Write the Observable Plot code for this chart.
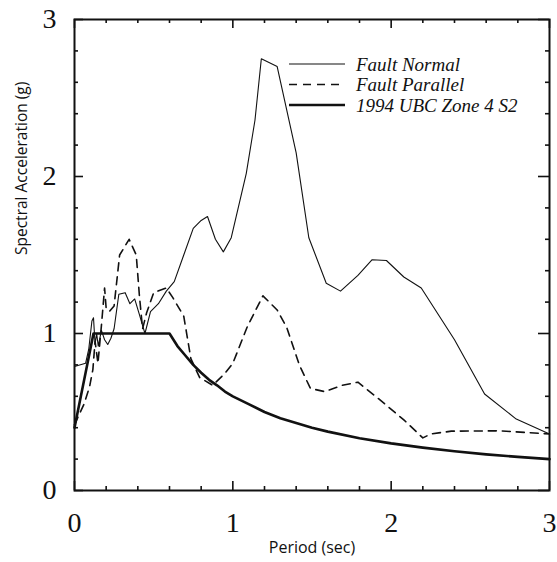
<!DOCTYPE html>
<html><head><meta charset="utf-8">
<script src="https://cdn.jsdelivr.net/npm/d3@7"></script>
<script src="https://cdn.jsdelivr.net/npm/@observablehq/plot@0.6"></script>
<style>body{margin:0;background:#fff}</style>
</head><body><div id="chart"></div>
<script>
// Fault Normal (thin solid)
const fnPeriod = [0, 0.07, 0.09, 0.11, 0.12, 0.13, 0.14, 0.15, 0.17, 0.19, 0.21, 0.23, 0.25, 0.28, 0.32, 0.35, 0.38, 0.41, 0.445, 0.48, 0.53, 0.58, 0.63, 0.69, 0.75, 0.80, 0.84, 0.89, 0.94, 0.99, 1.085, 1.14, 1.18, 1.28, 1.40, 1.48, 1.59, 1.68, 1.79, 1.88, 1.97, 2.08, 2.19, 2.40, 2.59, 2.79, 3.0];
const fnSa     = [0.79, 0.81, 0.90, 1.08, 1.10, 0.93, 1.00, 0.92, 1.02, 0.96, 0.93, 0.97, 1.03, 1.25, 1.26, 1.19, 1.22, 1.12, 1.00, 1.14, 1.19, 1.27, 1.33, 1.50, 1.67, 1.72, 1.745, 1.60, 1.52, 1.61, 2.02, 2.36, 2.75, 2.70, 2.15, 1.61, 1.32, 1.27, 1.37, 1.47, 1.465, 1.36, 1.29, 0.96, 0.615, 0.455, 0.36];
// Fault Parallel (dashed)
const fpPeriod = [0, 0.06, 0.095, 0.116, 0.13, 0.148, 0.17, 0.19, 0.20, 0.22, 0.25, 0.285, 0.345, 0.39, 0.41, 0.43, 0.455, 0.50, 0.58, 0.62, 0.69, 0.735, 0.79, 0.873, 0.947, 1.0, 1.09, 1.19, 1.28, 1.34, 1.42, 1.49, 1.58, 1.69, 1.79, 1.92, 2.08, 2.20, 2.25, 2.38, 2.69, 3.0];
const fpSa     = [0.42, 0.55, 0.66, 0.77, 0.95, 0.81, 1.05, 1.29, 1.16, 1.14, 1.175, 1.50, 1.60, 1.50, 1.24, 1.03, 1.13, 1.26, 1.29, 1.23, 1.11, 0.84, 0.72, 0.67, 0.743, 0.81, 1.04, 1.24, 1.15, 1.04, 0.80, 0.65, 0.63, 0.67, 0.69, 0.585, 0.45, 0.335, 0.36, 0.378, 0.38, 0.36];
// 1994 UBC Zone 4 S2 (thick solid)
const ubcPeriod = [0, 0.12, 0.6, 0.65, 0.7, 0.75, 0.8, 0.85, 0.9, 0.95, 1.0, 1.1, 1.2, 1.3, 1.4, 1.5, 1.6, 1.8, 2.0, 2.2, 2.4, 2.6, 2.8, 3.0];
const ubcSa     = [0.40, 1.0, 1.0, 0.92, 0.86, 0.80, 0.75, 0.705, 0.67, 0.63, 0.60, 0.55, 0.50, 0.46, 0.43, 0.40, 0.375, 0.333, 0.30, 0.273, 0.25, 0.23, 0.214, 0.20];

const seriesNames = ["Fault Normal", "Fault Parallel", "1994 UBC Zone 4 S2"];
const xMajor = [0, 1, 2, 3];
const yMajor = [0, 1, 2, 3];
const xMinor = [0.2, 0.4, 0.6, 0.8, 1.2, 1.4, 1.6, 1.8, 2.2, 2.4, 2.6, 2.8];
const yMinor = [0.2, 0.4, 0.6, 0.8, 1.2, 1.4, 1.6, 1.8, 2.2, 2.4, 2.6, 2.8];
const xTitle = "Period (sec)";
const yTitle = "Spectral Acceleration (g)";

const rows = (xs, ys) => xs.map((x, i) => ({x, y: ys[i]}));
const ink = "#111";
const serif = "'Liberation Serif', 'Times New Roman', serif";
const sans = "'Open Sans', sans-serif";

const W = 557, H = 562, mL = 74, mR = 8, mT = 19, mB = 72;
const fw = W - mL - mR, fh = H - mT - mB;
const tk = {stroke: ink, strokeWidth: 1.6};

const plot = Plot.plot({
  width: W, height: H,
  marginLeft: mL, marginRight: mR, marginTop: mT, marginBottom: mB,
  x: {domain: [0, 3], label: null},
  y: {domain: [0, 3], label: null},
  style: {fontFamily: serif, background: "#fff", color: ink},
  marks: [
    // tick labels
    Plot.axisX(xMajor, {anchor: "bottom", tickSize: 0, tickPadding: 22, fontSize: 28, fontFamily: serif, tickFormat: d => String(d), label: null}),
    Plot.axisY(yMajor, {anchor: "left", tickSize: 0, tickPadding: 18, fontSize: 28, fontFamily: serif, tickFormat: d => String(d), label: null}),
    // inward ticks on all four sides
    Plot.tickX(xMajor, {x: d => d, insetTop: fh - 9, ...tk}),
    Plot.tickX(xMinor, {x: d => d, insetTop: fh - 4, ...tk}),
    Plot.tickX(xMajor, {x: d => d, insetBottom: fh - 9, ...tk}),
    Plot.tickX(xMinor, {x: d => d, insetBottom: fh - 4, ...tk}),
    Plot.tickY(yMajor, {y: d => d, insetRight: fw - 9, ...tk}),
    Plot.tickY(yMinor, {y: d => d, insetRight: fw - 4, ...tk}),
    Plot.tickY(yMajor, {y: d => d, insetLeft: fw - 11, ...tk}),
    Plot.tickY(yMinor, {y: d => d, insetLeft: fw - 4, ...tk}),
    // axis titles
    Plot.text([xTitle], {text: d => d, frameAnchor: "bottom", dy: 62, fontFamily: sans, fontSize: 16, fill: ink}),
    Plot.text([yTitle], {text: d => d, frameAnchor: "left", dx: -52, rotate: -90, fontFamily: sans, fontSize: 15.5, fill: ink}),
    // series
    Plot.line(rows(ubcPeriod, ubcSa), {x: "x", y: "y", stroke: ink, strokeWidth: 2.6}),
    Plot.line(rows(fpPeriod, fpSa), {x: "x", y: "y", stroke: ink, strokeWidth: 1.6, strokeDasharray: "8,6"}),
    Plot.line(rows(fnPeriod, fnSa), {x: "x", y: "y", stroke: ink, strokeWidth: 1.1}),
    Plot.frame({stroke: ink, strokeWidth: 2})
  ]
});

document.getElementById("chart").appendChild(plot);

// in-plot legend
const svg = d3.select(plot);
const legendStyles = [
  {w: 1.1, dash: null},
  {w: 1.6, dash: "8,6"},
  {w: 2.6, dash: null}
];
const lg = svg.append("g").attr("transform", "translate(289,64)");
seriesNames.forEach((name, i) => {
  const g = lg.append("g").attr("transform", `translate(0,${i * 20.5})`);
  g.append("line").attr("x1", 0).attr("x2", 56).attr("y1", 0).attr("y2", 0)
    .attr("stroke", ink).attr("stroke-width", legendStyles[i].w)
    .attr("stroke-dasharray", legendStyles[i].dash);
  g.append("text").attr("x", 67).attr("y", 0).attr("dy", "0.35em")
    .attr("text-anchor", "start")
    .attr("font-family", serif).attr("font-style", "italic").attr("font-size", 19)
    .attr("fill", ink).text(name);
});
</script>
</body></html>
